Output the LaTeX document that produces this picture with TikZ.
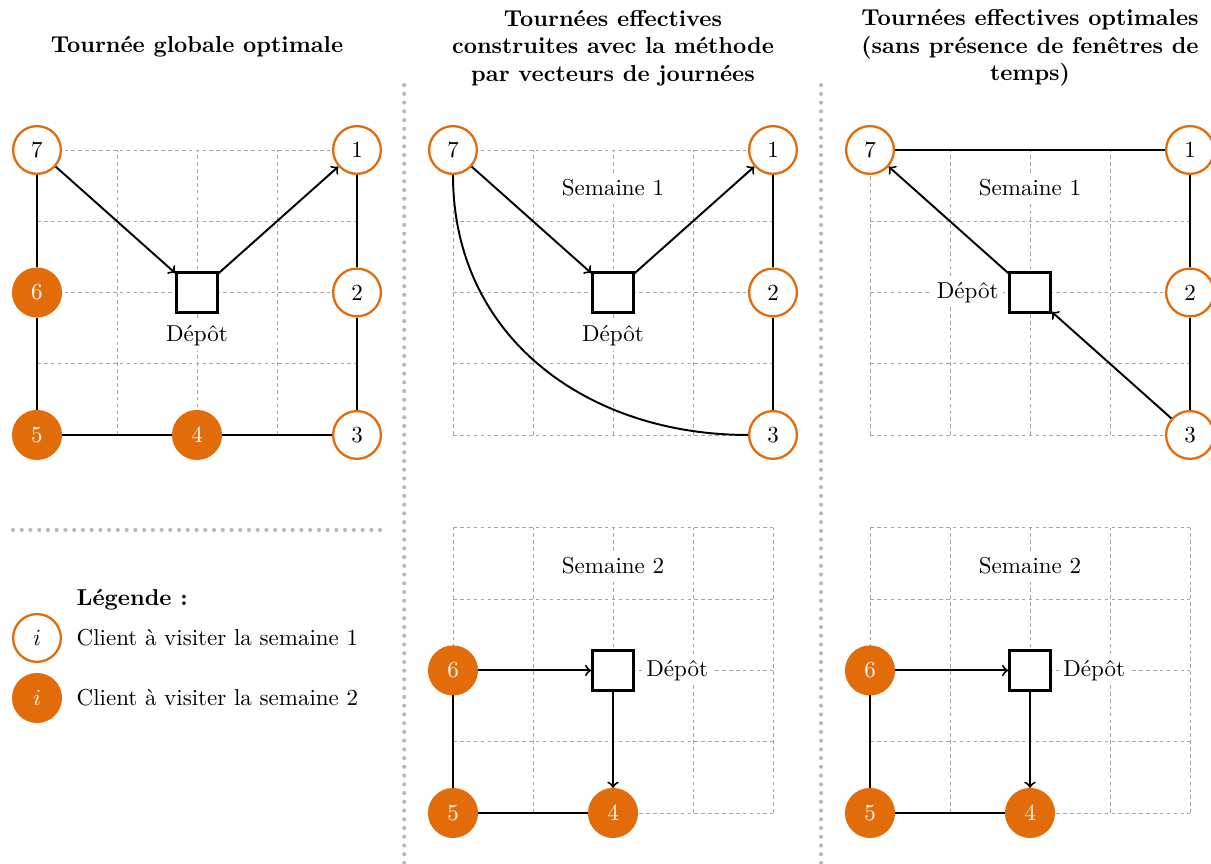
\documentclass[tikz,border=0pt]{standalone}
\usepackage{tikz}
\usetikzlibrary{positioning}
\usetikzlibrary{calc}
\definecolor{orangeclient}{RGB}{227,108,10}
\tikzset{semun/.style={circle,draw=orangeclient,line width=1pt,fill=white,minimum size=0.73cm,inner sep=0pt},
semdeux/.style={circle,draw=orangeclient,fill=orangeclient,line width=1pt,text=white,minimum size=0.73cm,inner sep=0pt},
depot/.style={rectangle,draw,line width=1.3pt,fill=white,minimum size=0.62cm,inner sep=0pt},
grille/.style={gray!70,line width=0.4pt,dash pattern=on 1.6pt off 1.4pt},
separ/.style={gray!55,line width=1.8pt,line cap=round,dash pattern=on 0pt off 3.8pt},
route/.style={line width=0.85pt},
etiq/.style={fill=white,inner sep=2pt},
titre/.style={font=\bfseries,align=center}}

\begin{document}
\begin{tikzpicture}[x=1.2225cm,y=1.0888cm]
\useasboundingbox (-0.4625,-6.021) rectangle (14.675,6.105);
\node[titre] (t1) at (2,5.45) {Tournée globale optimale};
\node[titre] (t2) at (7.2,5.43) {Tournées effectives\\construites avec la méthode\\par vecteurs de journées};
\node[titre] (t3) at (12.4125,5.43) {Tournées effectives optimales\\(sans présence de fenêtres de\\temps)};
\draw[separ] (4.59,4.91) -- (4.59,-6.02);
\draw[separ] (9.8,4.91) -- (9.8,-6.02);
\draw[separ] (-0.3,-1.333) -- (4.33,-1.333);

% tournee globale
\foreach \i in {0,...,4} {
\draw[grille] (\i,0) -- (\i,4);
\draw[grille] (0,\i) -- (4,\i);
}
\node[semun] (a7) at (0,4) {7};
\node[semun] (a1) at (4,4) {1};
\node[semdeux] (a6) at (0,2) {6};
\node[semun] (a2) at (4,2) {2};
\node[semdeux] (a5) at (0,0) {5};
\node[semdeux] (a4) at (2,0) {4};
\node[semun] (a3) at (4,0) {3};
\node[depot] (ad) at (2,2) {};
\node[etiq,below=0.1cm of ad] (adl) {Dépôt};
\draw[route] (a7) -- (a6) -- (a5) -- (a4) -- (a3) -- (a2) -- (a1);
\draw[route,->] (a7) -- (ad);
\draw[route,->] (ad) -- (a1);

% legende
\node[semun] (l1) at (0,-2.849) {$i$};
\node[semdeux] (l2) at (0,-3.691) {$i$};
\node[right=0.1cm of l1] (l1t) {Client à visiter la semaine 1};
\node[right=0.1cm of l2] (l2t) {Client à visiter la semaine 2};
\node[titre,anchor=west] (leg) at ($(l1t.west)+(0,0.533)$) {Légende :};

% semaine 1, methode
\begin{scope}[shift={(5.2,0)}]
\foreach \i in {0,...,4} {
\draw[grille] (\i,0) -- (\i,4);
\draw[grille] (0,\i) -- (4,\i);
}
\node[etiq] (bs) at (2,3.47) {Semaine 1};
\node[semun] (b7) at (0,4) {7};
\node[semun] (b1) at (4,4) {1};
\node[semun] (b2) at (4,2) {2};
\node[semun] (b3) at (4,0) {3};
\node[depot] (bd) at (2,2) {};
\node[etiq,below=0.1cm of bd] (bdl) {Dépôt};
\draw[route,->] (b7) -- (bd);
\draw[route,->] (bd) -- (b1);
\draw[route] (b1) -- (b2) -- (b3);
\draw[route] (b3) to[out=180,in=-90,looseness=1.05] (b7);
\end{scope}

% semaine 1, optimale
\begin{scope}[shift={(10.4125,0)}]
\foreach \i in {0,...,4} {
\draw[grille] (\i,0) -- (\i,4);
\draw[grille] (0,\i) -- (4,\i);
}
\node[etiq] (cs) at (2,3.47) {Semaine 1};
\node[semun] (c7) at (0,4) {7};
\node[semun] (c1) at (4,4) {1};
\node[semun] (c2) at (4,2) {2};
\node[semun] (c3) at (4,0) {3};
\node[depot] (cd) at (2,2) {};
\node[etiq,left=0.07cm of cd] (cdl) {Dépôt};
\draw[route] (c7) -- (c1) -- (c2) -- (c3);
\draw[route,->] (c3) -- (cd);
\draw[route,->] (cd) -- (c7);
\end{scope}

% semaine 2
\foreach \p/\dx in {d/5.2,e/10.4125} {
\begin{scope}[shift={(\dx,-5.305)}]
\foreach \i in {0,...,4} {
\draw[grille] (\i,0) -- (\i,4);
\draw[grille] (0,\i) -- (4,\i);
}
\node[etiq] (\p s) at (2,3.47) {Semaine 2};
\node[semdeux] (\p6) at (0,2) {6};
\node[semdeux] (\p5) at (0,0) {5};
\node[semdeux] (\p4) at (2,0) {4};
\node[depot] (\p d) at (2,2) {};
\node[etiq,right=0.1cm of \p d] (\p dl) {Dépôt};
\draw[route,->] (\p6) -- (\p d);
\draw[route,->] (\p d) -- (\p4);
\draw[route] (\p6) -- (\p5) -- (\p4);
\end{scope}
}
\end{tikzpicture}
\end{document}
